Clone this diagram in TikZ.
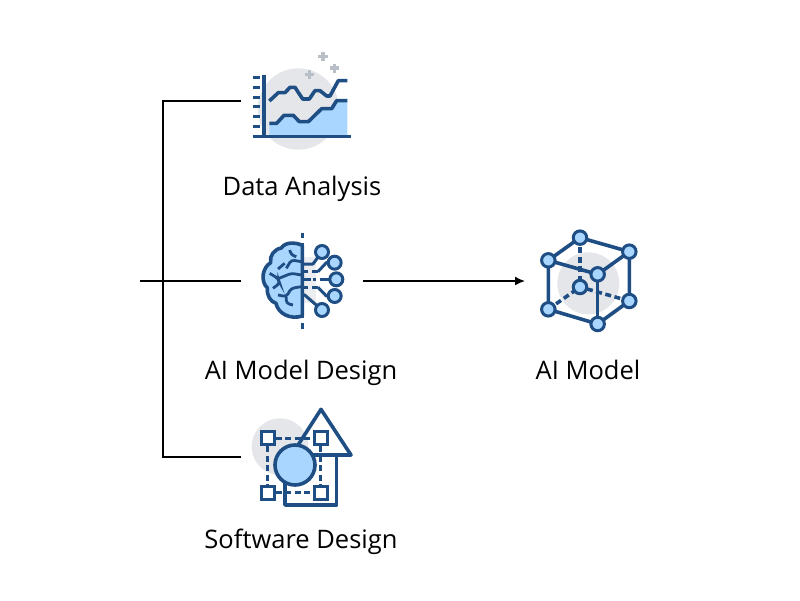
\documentclass[tikz,border=0pt]{standalone}
\usepackage{fontspec}
\setmainfont{Open Sans}
\usetikzlibrary{arrows.meta}
\definecolor{navy}{HTML}{1F4E85}
\definecolor{skyfill}{HTML}{A9D6FF}
\definecolor{palegrey}{HTML}{E4E6E9}
\definecolor{plusgrey}{HTML}{B9BFC6}
\tikzset{
	label text/.style={font=\fontsize{25.5}{30}\selectfont, inner sep=0pt, anchor=base},
	wire/.style={line width=1.5pt, color=black},
	icon/.style={line width=3.6pt, color=navy, line join=round},
	thin icon/.style={line width=3pt, color=navy, line join=round},
	fold/.style={line width=2.8pt, color=navy, rounded corners=3pt},
	vertex/.style={circle, draw=navy, fill=skyfill, line width=3pt, minimum size=13.5pt, inner sep=0pt},
	pad/.style={circle, draw=navy, fill=skyfill, line width=3pt, minimum size=13pt, inner sep=0pt},
	handle/.style={rectangle, draw=navy, fill=white, line width=3pt, minimum size=13pt, inner sep=0pt},
	gap dash/.style={dash pattern=on 6pt off 3.5pt}
}
\begin{document}
\begin{tikzpicture}[x=1pt, y=-1pt]
	\useasboundingbox (0,0) rectangle (800,600);

	% labels
	\node[label text] (datalabel) at (302,195.5) {Data Analysis};
	\node[label text] (brainlabel) at (301,379) {AI Model Design};
	\node[label text] (softlabel) at (301,548) {Software Design};
	\node[label text] (modellabel) at (588,379) {AI Model};

	% connectors
	\coordinate (dataend) at (241,101);
	\coordinate (datajoin) at (163,101);
	\coordinate (softjoin) at (163,457);
	\coordinate (softend) at (241,457);
	\coordinate (busstart) at (140,281);
	\coordinate (busend) at (241,281);
	\coordinate (arrowstart) at (363,281);
	\coordinate (arrowend) at (525,281);
	\draw[wire] (dataend) -- (datajoin) -- (softjoin) -- (softend);
	\draw[wire] (busstart) -- (busend);
	\draw[wire, -{Latex[length=10pt,width=9pt]}] (arrowstart) -- (arrowend);

	% data icon
	\begin{scope}[shift={(230,40)}, x=0.3333pt, y=-0.3333pt]
		\fill[palegrey] (205,207) circle (122);
		\fill[skyfill] (118,250) -- (140,250) -- (162,226) -- (190,226) -- (208,245) -- (235,245) -- (275,206) -- (305,206) -- (320,182) -- (352,182) -- (352,288) -- (118,288) -- cycle;
		\draw[plusgrey, line width=3.6pt] (225,103) -- (253,103) (239,90) -- (239,117);
		\draw[plusgrey, line width=3.6pt] (265,50) -- (293,50) (279,37) -- (279,64);
		\draw[plusgrey, line width=3.6pt] (300,84) -- (328,84) (314,71) -- (314,98);
		\draw[icon] (118,183) -- (145,158) -- (165,158) -- (180,142) -- (195,142) -- (218,177) -- (238,177) -- (255,152) -- (270,152) -- (290,168) -- (300,168) -- (325,122) -- (352,122);
		\draw[icon] (118,250) -- (140,250) -- (162,226) -- (190,226) -- (208,245) -- (235,245) -- (275,206) -- (305,206) -- (320,182) -- (352,182);
		\draw[icon] (102,105) -- (102,290);
		\draw[icon] (68,290) -- (362,290);
		\draw[thin icon] (68,113) -- (90,113);
		\draw[thin icon] (68,143) -- (90,143);
		\draw[thin icon] (68,172) -- (90,172);
		\draw[thin icon] (68,200) -- (90,200);
		\draw[thin icon] (68,230) -- (90,230);
		\draw[thin icon] (68,260) -- (90,260);
	\end{scope}

	% brain icon
	\begin{scope}[shift={(240,220)}, x=0.3333pt, y=-0.3333pt]
		\fill[palegrey!70] (190,112) rectangle (228,250);
		\draw[icon, fill=skyfill] (187,76) .. controls (165,66) and (135,66) .. (124,84) .. controls (102,88) and (88,108) .. (92,128) .. controls (68,142) and (60,182) .. (82,204) .. controls (80,228) and (92,245) .. (108,250) .. controls (114,280) and (150,300) .. (187,288) -- cycle;
		\draw[fold] (184,125) -- (154,120) -- (139,145);
		\draw[fold] (114,147) -- (134,130);
		\draw[fold] (149,90) -- (154,105) -- (169,110);
		\draw[fold] (89,160) -- (114,175) -- (119,190) -- (99,205);
		\draw[fold] (117,175) -- (154,160) -- (184,165);
		\draw[fold] (184,200) -- (154,205) -- (139,230) -- (114,225);
		\draw[fold] (139,230) -- (139,250) -- (159,255);
		\draw[icon] (187,70) -- (187,295);
		\draw[icon] (187,38) -- (187,55);
		\draw[icon] (187,310) -- (187,326);
		\draw[thin icon] (189,132) -- (219,132) -- (246,96);
		\draw[thin icon] (234,155) -- (259,128) -- (284,128);
		\draw[thin icon, gap dash] (187,155) -- (234,155);
		\draw[thin icon] (239,178) -- (289,178);
		\draw[thin icon] (187,178) -- (214,178);
		\draw[thin icon] (220,178) -- (228,178);
		\draw[thin icon, gap dash] (187,202) -- (234,202);
		\draw[thin icon] (234,202) -- (259,228) -- (284,228);
		\draw[thin icon] (187,225) -- (194,225) -- (246,270);
		\node[pad] (pada) at (246,96) {};
		\node[pad] (padb) at (284,128) {};
		\node[pad] (padc) at (289,178) {};
		\node[pad] (padd) at (284,228) {};
		\node[pad] (pade) at (246,270) {};
	\end{scope}

	% software icon
	\begin{scope}[shift={(240,400)}, x=0.3333pt, y=-0.3333pt]
		\fill[palegrey] (120,140) circle (85);
		\draw[icon] (243,28) -- (333,165) -- (155,165) -- cycle;
		\draw[icon] (290,165) -- (290,315) -- (135,315) -- (135,250);
		\node[handle] (handa) at (83,115) {};
		\node[handle] (handb) at (242,115) {};
		\node[handle] (handc) at (83,278) {};
		\node[handle] (handd) at (242,278) {};
		\draw[thin icon, gap dash] (handa) -- (handb);
		\draw[thin icon, gap dash] (handa) -- (handc);
		\draw[thin icon, gap dash] (handb) -- (handd);
		\draw[thin icon, gap dash] (handc) -- (handd);
		\draw[icon, fill=skyfill] (165,195) circle (60);
	\end{scope}

	% cube icon
	\begin{scope}[shift={(530,225)}, x=0.3333pt, y=-0.3333pt]
		\fill[palegrey] (175,175) circle (93);
		\coordinate (backcore) at (150,186);
		\draw[icon] (150,38) -- (298,80) -- (298,228) -- (203,297) -- (55,253) -- (55,106) -- cycle;
		\draw[icon] (55,106) -- (203,148) -- (298,80);
		\draw[icon] (203,148) -- (203,297);
		\draw[icon, gap dash] (150,38) -- (backcore);
		\draw[icon, gap dash] (55,253) -- (backcore);
		\draw[icon, gap dash] (298,228) -- (backcore);
		\node[vertex] (backtop) at (150,38) {};
		\node[vertex] (righttop) at (298,80) {};
		\node[vertex] (lefttop) at (55,106) {};
		\node[vertex] (fronttop) at (203,148) {};
		\node[vertex] (backbot) at (backcore) {};
		\node[vertex] (rightbot) at (298,228) {};
		\node[vertex] (leftbot) at (55,253) {};
		\node[vertex] (frontbot) at (203,297) {};
	\end{scope}
\end{tikzpicture}
\end{document}
